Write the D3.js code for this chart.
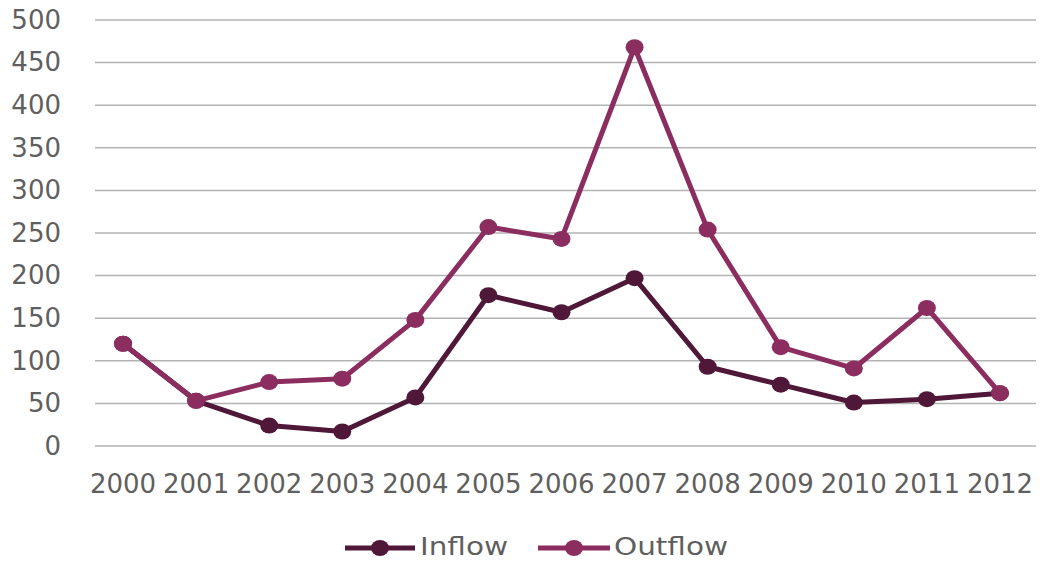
<!DOCTYPE html>
<html><head><meta charset="utf-8">
<script src="https://cdn.jsdelivr.net/npm/d3@7"></script>
<style>body{margin:0;background:#fff}svg{display:block}</style>
</head><body>
<svg id="c" width="1040" height="562"></svg>
<script>
const years = ["2000","2001","2002","2003","2004","2005","2006","2007","2008","2009","2010","2011","2012"];
const inflow = [120,53,24,17,57,177,157,197,93,72,51,55,62];
const outflow = [120,53,75,79,148,257,243,468,254,116,91,162,62];
const yTicks = [0,50,100,150,200,250,300,350,400,450,500];
const seriesNames = ["Inflow","Outflow"];
const colors = ["#4f1838","#8c2d60"];

const svg = d3.select("#c");
const x = d3.scaleBand().domain(years).range([86.5,1036.5]);
const y = d3.scaleLinear().domain([0,500]).range([446,20]);
const font = "DejaVu Sans, sans-serif";
const textCol = "#5f5f5f";

// gridlines
svg.append("g").selectAll("line").data(yTicks).join("line")
  .attr("x1",95).attr("x2",1036).attr("y1",d=>y(d)).attr("y2",d=>y(d))
  .attr("stroke","#b3b3b3").attr("stroke-width",1.5);

// y axis labels
const ya = svg.append("g").attr("transform","translate(61,0)")
  .call(d3.axisLeft(y).tickValues(yTicks).tickSize(0).tickPadding(0));
ya.select(".domain").remove();
ya.selectAll("text").attr("font-family",font).attr("font-size",26).attr("fill",textCol);

// x axis labels
const xa = svg.append("g").attr("transform","translate(0,446)")
  .call(d3.axisBottom(x).tickSize(0).tickPadding(29));
xa.select(".domain").remove();
xa.selectAll("text").attr("font-family",font).attr("font-size",26).attr("fill",textCol);

const data = [inflow, outflow];
const line = d3.line().x((d,i)=>x(years[i])+x.bandwidth()/2).y(d=>y(d));
data.forEach((s,k)=>{
  const g = svg.append("g");
  g.append("path").datum(s).attr("d",line).attr("fill","none")
    .attr("stroke",colors[k]).attr("stroke-width",5).attr("stroke-linejoin","round");
  g.selectAll("ellipse").data(s).join("ellipse")
    .attr("cx",(d,i)=>x(years[i])+x.bandwidth()/2).attr("cy",d=>y(d))
    .attr("rx",9).attr("ry",8).attr("fill",colors[k]);
});

// legend
const leg = [{x0:345,x1:415,tx:420,w:88},{x0:538,x1:610,tx:614,w:114}];
leg.forEach((l,k)=>{
  const g = svg.append("g");
  g.append("line").attr("x1",l.x0).attr("x2",l.x1).attr("y1",548).attr("y2",548)
    .attr("stroke",colors[k]).attr("stroke-width",5);
  g.append("ellipse").attr("cx",(l.x0+l.x1)/2).attr("cy",548).attr("rx",9).attr("ry",8).attr("fill",colors[k]);
  g.append("text").attr("x",l.tx).attr("y",546).attr("dy","0.36em")
    .attr("textLength",l.w).attr("lengthAdjust","spacingAndGlyphs")
    .attr("font-family",font).attr("font-size",24).attr("fill",textCol).text(seriesNames[k]);
});
</script>
</body></html>
